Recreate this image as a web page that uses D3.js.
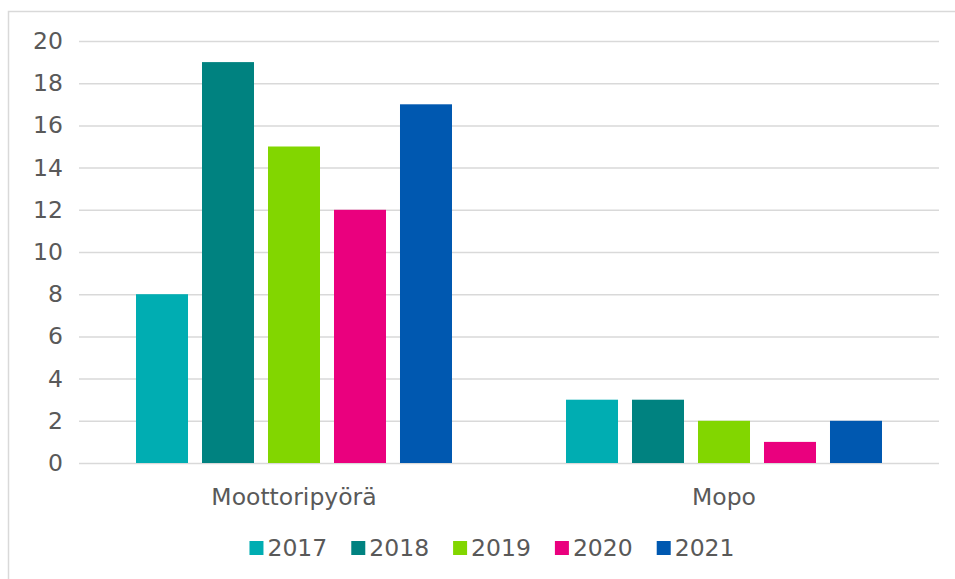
<!DOCTYPE html>
<html><head><meta charset="utf-8">
<script src="https://cdn.jsdelivr.net/npm/d3@7"></script>
<style>body{margin:0;background:#fff;} svg{display:block;}</style>
</head><body>
<svg id="c" width="955" height="579"></svg>
<script>
const categories = ["Moottoripyörä", "Mopo"];
const years = ["2017", "2018", "2019", "2020", "2021"];
const colors = ["#00ADB2", "#008280", "#82D600", "#EA007E", "#0058B0"];
const values2017 = [8, 3];
const values2018 = [19, 3];
const values2019 = [15, 2];
const values2020 = [12, 1];
const values2021 = [17, 2];
const yTicks = [0, 2, 4, 6, 8, 10, 12, 14, 16, 18, 20];

const series = [values2017, values2018, values2019, values2020, values2021];
const svg = d3.select("#c");
const font = "DejaVu Sans, Verdana, sans-serif";
const textColor = "#595959";
const fs = "23.5px";

svg.append("rect").attr("x", 8.5).attr("y", 11.5).attr("width", 1000).attr("height", 1000)
  .attr("fill", "none").attr("stroke", "#d9d9d9").attr("stroke-width", 1.5);

const pLeft = 79, pRight = 939, pTop = 41, pBottom = 463;
const groupW = 316;
const x0 = d3.scaleBand().domain(categories).range([pLeft, pRight]);
const x1 = d3.scaleBand().domain(years).range([0, groupW]).paddingInner(0.212).paddingOuter(0);
const y = d3.scaleLinear().domain([0, 20]).range([pBottom, pTop]);

const yAxis = d3.axisLeft(y).tickValues(yTicks).tickSize(-(pRight - pLeft)).tickPadding(16);
const gy = svg.append("g").attr("transform", `translate(${pLeft},0)`).call(yAxis);
gy.select(".domain").remove();
gy.selectAll(".tick line").attr("stroke", "#d9d9d9").attr("stroke-width", 1.5);
gy.selectAll(".tick text").attr("fill", textColor).style("font-family", font).style("font-size", fs);

const groups = svg.append("g").selectAll("g").data(categories).join("g")
  .attr("transform", c => `translate(${x0(c) + x0.bandwidth() / 2 - groupW / 2},0)`);
groups.each(function(c, ci) {
  d3.select(this).selectAll("rect").data(years).join("rect")
    .attr("x", yr => x1(yr))
    .attr("width", x1.bandwidth())
    .attr("y", (yr, i) => y(series[i][ci]))
    .attr("height", (yr, i) => pBottom - y(series[i][ci]))
    .attr("fill", (yr, i) => colors[i]);
});

const xAxis = d3.axisBottom(x0).tickSize(0).tickPadding(25);
const gx = svg.append("g").attr("transform", `translate(0,${pBottom})`).call(xAxis);
gx.select(".domain").remove();
gx.selectAll(".tick text").attr("fill", textColor).style("font-family", font).style("font-size", fs);

// legend
const legend = svg.append("g");
const items = legend.selectAll("g").data(years).join("g");
items.append("rect").attr("width", 14).attr("height", 14).attr("y", -7).attr("fill", (d, i) => colors[i]);
items.append("text").attr("x", 18).attr("dy", "0.35em").text(d => d)
  .attr("fill", textColor).style("font-family", font).style("font-size", fs);
const gap = 24;
let xpos = 0;
items.each(function() {
  const w = this.getBBox().width;
  d3.select(this).attr("transform", `translate(${xpos},0)`);
  xpos += w + gap;
});
const total = xpos - gap;
legend.attr("transform", `translate(${492 - total / 2},548)`);
</script>
</body></html>
